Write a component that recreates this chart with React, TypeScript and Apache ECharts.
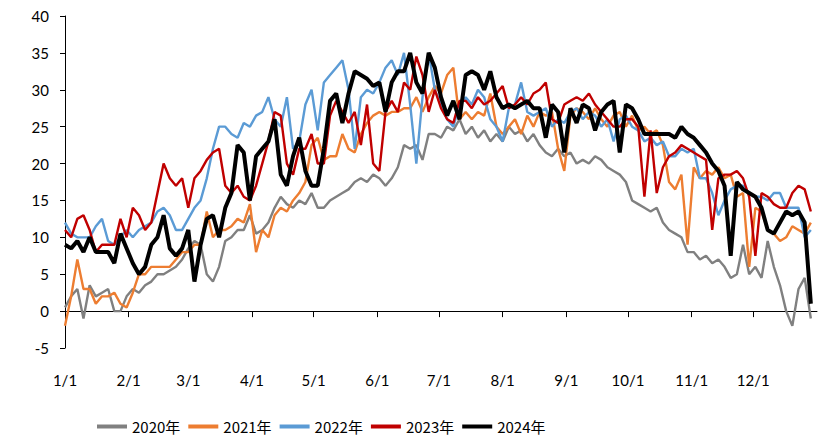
import React, { useEffect, useRef } from "react";
import * as echarts from "echarts";

// sampling step (days) of the series arrays below, starting at 1/1
const STEP = 3;

const monthStartDays = [0, 31, 60, 91, 121, 152, 182, 213, 244, 274, 305, 335];
const monthLabels = ["1/1", "2/1", "3/1", "4/1", "5/1", "6/1", "7/1", "8/1", "9/1", "10/1", "11/1", "12/1"];

const seriesNames = ["2020年", "2021年", "2022年", "2023年", "2024年"];

const y2020 = [
  0.5, 2, 3, -1, 3.5, 2, 2.5, 3, 0, 0,
  2, 3, 2.5, 3.5, 4, 5, 5, 5.5, 6, 7,
  8.5, 9.5, 9, 5, 4, 6, 9.5, 10, 11, 11,
  13, 10.5, 11, 12, 14, 15.5, 14.5, 14, 15, 14.5,
  16, 14, 14, 15, 15.5, 16, 16.5, 17.5, 18, 17.5,
  18.5, 18, 17, 18, 19.5, 22.5, 22, 22.5, 20.5, 24,
  24, 23.5, 25, 24.5, 26, 24, 25, 23.5, 24.5, 23,
  24, 23, 25, 24, 24.5, 23, 24, 22.5, 21.5, 21,
  22, 21, 21.5, 20, 20.5, 20, 21, 20.5, 19.5, 19,
  18.5, 17.5, 15, 14.5, 14, 13.5, 14, 12, 11, 10.5,
  10, 8, 8, 7, 7.5, 6.5, 7, 6, 4.5, 5,
  9, 5, 6, 4.5, 9.5, 6, 3.5, 0, -2, 3,
  4.5, -1,
];

const y2021 = [
  -2, 2, 7, 3, 3, 1, 2, 2, 2.5, 1,
  0.5, 2.5, 5, 5, 6, 6, 6, 6, 7, 8,
  8, 9, 9, 13.5, 10, 11, 11, 11.5, 12.5, 12,
  14.5, 8, 11, 10, 13, 14, 13.5, 15, 16, 17.5,
  22.5, 23.5, 20.5, 21, 21, 24, 22, 21.5, 24, 25.5,
  26.5, 27, 26.5, 27, 27, 27.5, 27.5, 29, 27, 29,
  30.5, 29.5, 32, 33, 26, 27, 26, 27, 26.5, 29.5,
  25, 24, 25, 26, 24, 26.5, 25, 27, 26.5, 27,
  22, 19, 26.5, 27.5, 27, 26, 27.5, 26, 25, 26.5,
  27, 25, 26.5, 24.5, 25, 24, 24.5, 22.5, 17.5, 16.5,
  18.5, 9, 19.5, 18, 19, 18.5, 19.5, 18, 18.5, 15.5,
  16, 6, 14, 13.5, 11, 10.5, 9.5, 10, 11.5, 11,
  10.5, 12,
];

const y2022 = [
  12, 10.5, 10, 10, 10, 11.5, 12.5, 9.5, 9, 10,
  11, 10, 11, 11.5, 12, 13.5, 14, 13, 11, 11,
  12.5, 14, 15, 18, 22, 25, 25, 24, 23.5, 25.5,
  25, 26.5, 27, 29, 26, 25, 29, 22, 23, 28,
  30, 24.5, 31, 32, 33, 34, 30, 22, 29, 30,
  29.5, 31, 33, 34, 32, 35, 28, 20, 29, 35,
  30, 28, 26, 25, 28, 29, 28, 30, 29, 26,
  25, 23, 27.5, 28, 31, 27, 26.5, 27, 27.5, 25,
  26, 25.5, 27, 27.5, 26, 27, 26.5, 25, 26, 23,
  26, 26.5, 25, 24.5, 23, 23.5, 22.5, 23, 21, 21,
  22, 21.5, 22, 18, 18, 16, 13, 15, 16.5, 17,
  17, 16, 15.5, 15.5, 15, 16, 16, 14, 14, 14,
  10, 11,
];

const y2023 = [
  11, 10, 12.5, 13, 11, 8, 9, 9, 9, 12.5,
  10, 14, 13, 11, 12, 16, 20, 18, 17, 18,
  14, 18, 19, 20.5, 21.5, 22, 17, 16, 17, 15.5,
  15, 17, 20, 23, 27, 26.5, 20, 18.5, 22, 22,
  24, 20, 20, 26.5, 28.5, 27, 25.5, 27, 22.5, 28,
  20, 19, 27, 28.5, 27, 31, 30, 34.5, 32, 27,
  30, 27.5, 26, 25.5, 28.5, 28.5, 27.5, 29, 28, 28.5,
  29.5, 30.5, 27.5, 28, 29, 28, 29.5, 30, 31, 26,
  25.5, 28, 28.5, 29, 28.5, 29.5, 28, 27, 26, 25,
  25, 26, 26, 25, 15.5, 24.5, 16, 19.5, 21, 21.5,
  22.5, 22, 21.5, 21, 20.5, 11, 18, 18.5, 18.5, 19,
  18, 15.5, 7.5, 16, 15.5, 14.5, 14, 14, 16, 17,
  16.5, 13.5,
];

const y2024 = [
  9, 8.5, 9.5, 8, 10, 8, 8, 8, 6.5, 10.5,
  8.5, 6.5, 5, 6, 9, 10, 13, 8.5, 7.5, 8.5,
  11, 4, 9, 12.5, 13, 10, 14, 16, 22.5, 21.5,
  15, 21, 22, 23, 26, 18.5, 17, 21, 23.5, 19,
  17, 17, 22, 28.5, 29.5, 25.5, 29.5, 32.5, 32, 31.5,
  30.5, 31, 27, 31, 32.5, 32.5, 35, 31, 29.5, 35,
  33, 29, 26.5, 28.5, 26, 32, 32.5, 32, 30, 32.5,
  29, 27.5, 28, 27.5, 28, 28.5, 27.5, 27.5, 23.5, 28,
  27, 21.5, 27.5, 25.5, 28, 27.5, 24.5, 27, 28, 28.5,
  21.5, 28, 27.5, 26, 24, 24, 24, 24, 24, 23.5,
  25, 24, 23.5, 22.5, 21.5, 20, 19, 17, 7.5, 17.5,
  16.5, 16, 15.5, 14, 11, 10.5, 12, 13.5, 13, 13.5,
  12, 1,
];

const seriesValues = [y2020, y2021, y2022, y2023, y2024];
const seriesColors = ["#808080", "#ED7D31", "#5B9BD5", "#C00000", "#000000"];
const seriesWidths = [2.4, 2.4, 2.4, 2.4, 4];

const FONT = "Lato, 'Noto Sans', sans-serif";
const CJK = "'Noto Sans CJK SC', 'Noto Sans', sans-serif";

export default function App() {
  const ref = useRef<HTMLDivElement>(null);

  useEffect(() => {
    if (!ref.current) return;
    const chart = echarts.init(ref.current, undefined, { renderer: "svg" });
    const labelOf: Record<number, string> = {};
    monthStartDays.forEach((d, i) => (labelOf[d] = monthLabels[i]));

    chart.setOption({
      animation: false,
      backgroundColor: "#ffffff",
      grid: { left: 65, right: 9, top: 16, bottom: 93, containLabel: false },
      xAxis: {
        type: "value",
        min: 0,
        max: 366,
        splitLine: { show: false },
        axisLine: { show: true, onZero: true, lineStyle: { color: "#000", width: 1 } },
        axisTick: { show: true, customValues: monthStartDays, length: 6, lineStyle: { color: "#000" } },
        axisLabel: {
          customValues: monthStartDays,
          formatter: (v: number) => labelOf[v] ?? "",
          margin: 24,
          fontSize: 15,
          color: "#000",
          fontFamily: FONT,
        },
      },
      yAxis: {
        type: "value",
        min: -5,
        max: 40,
        interval: 5,
        splitLine: { show: false },
        axisLine: { show: true, lineStyle: { color: "#000", width: 1 } },
        axisTick: { show: true, length: 5, lineStyle: { color: "#000" } },
        axisLabel: { fontSize: 15, color: "#000", margin: 16, fontFamily: FONT },
      },
      legend: {
        top: 414,
        left: 92,
        icon: "rect",
        itemWidth: 30,
        itemHeight: 4,
        itemGap: 8,
        textStyle: { fontSize: 15, color: "#000", fontFamily: CJK },
        data: seriesNames,
      },
      series: seriesNames.map((name, k) => ({
        name,
        type: "line",
        symbol: "none",
        showSymbol: false,
        color: seriesColors[k],
        lineStyle: { color: seriesColors[k], width: seriesWidths[k] },
        data: seriesValues[k].map((v, i) => [i * STEP, v]),
        z: 2 + k,
      })),
    });

    return () => chart.dispose();
  }, []);

  return (
    <div
      ref={ref}
      style={{ position: "fixed", left: 0, top: 0, width: 826, height: 441, background: "#fff" }}
    />
  );
}
